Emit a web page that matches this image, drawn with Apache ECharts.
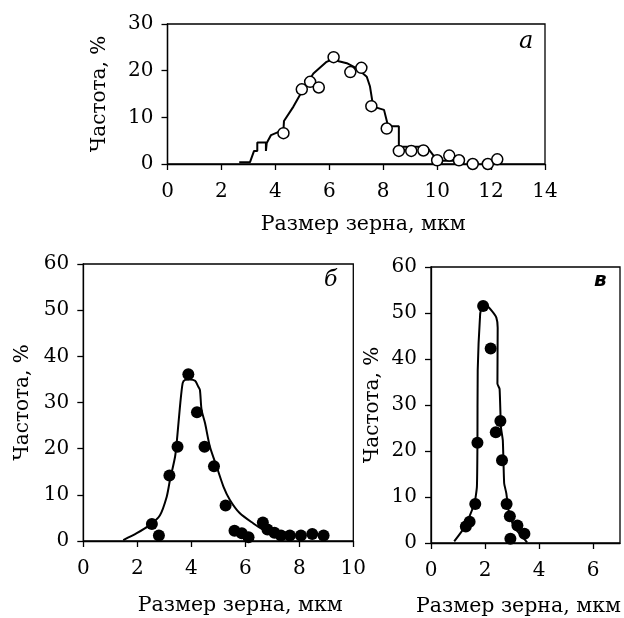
<!DOCTYPE html>
<html>
<head>
<meta charset="utf-8">
<script src="https://cdn.jsdelivr.net/npm/echarts@6/dist/echarts.min.js"></script>
<style>
html,body{margin:0;padding:0;background:#fff;}
#chart{width:624px;height:618px;}
</style>
</head>
<body>
<div id="chart"></div>
<script>
// ---- Data ----
const xTicksA = [0, 2, 4, 6, 8, 10, 12, 14];
const yTicksA = [0, 10, 20, 30];
const xTicksB = [0, 2, 4, 6, 8, 10];
const yTicksB = [0, 10, 20, 30, 40, 50, 60];
const xTicksC = [0, 2, 4, 6];
const xMaxC = 7;
const yTicksC = [0, 10, 20, 30, 40, 50, 60];

const panelLabels = ['a', 'б', 'в'];
const xAxisTitle = 'Размер зерна, мкм';
const yAxisTitle = 'Частота, %';

// Panel a: measured points (open circles)
const aPtsX = [4.30, 4.98, 5.29, 5.61, 6.16, 6.78, 7.19, 7.56, 8.13, 8.58, 9.04, 9.49, 10.0, 10.45, 10.81, 11.32, 11.88, 12.23];
const aPtsY = [6.6, 16.0, 17.6, 16.4, 22.9, 19.7, 20.6, 12.4, 7.6, 2.8, 2.8, 2.9, 0.8, 1.8, 0.8, 0, 0, 1.0];
// Panel a: curve
const aLineX = [2.66, 3.06, 3.21, 3.33, 3.33, 3.65, 3.65, 3.68, 3.84, 4.30, 4.32, 4.67, 4.98, 5.41, 5.90, 6.09, 6.65, 7.02, 7.39, 7.51, 7.59, 7.63, 8.03, 8.17, 8.32, 8.58, 8.58, 9.61, 10.01, 10.8];
const aLineY = [0.4, 0.4, 2.8, 2.8, 4.6, 4.6, 2.8, 4.5, 6.2, 7.3, 9.2, 12.3, 15.5, 19.4, 21.9, 22.4, 21.6, 20.5, 18.7, 16.6, 13.7, 12.3, 11.6, 8.35, 8.1, 8.1, 3.7, 3.7, 0.7, 0.7];

// Panel б: measured points (filled circles)
const bPtsX = [2.54, 2.80, 3.19, 3.49, 3.89, 4.21, 4.49, 4.84, 5.27, 5.60, 5.87, 6.12, 6.65, 6.82, 7.08, 7.32, 7.65, 8.06, 8.48, 8.90];
const bPtsY = [3.7, 1.2, 14.2, 20.4, 36.1, 27.9, 20.4, 16.2, 7.7, 2.2, 1.7, 0.8, 4.0, 2.5, 1.8, 1.2, 1.2, 1.2, 1.5, 1.2];
// Panel б: curve
const bLineX = [1.48, 1.98, 2.47, 2.84, 3.09, 3.21, 3.40, 3.48, 3.58, 3.68, 3.77, 3.95, 4.14, 4.26, 4.32, 4.38, 4.51, 4.69, 4.94, 5.19, 5.43, 5.80, 6.30, 6.67, 7.04, 7.41];
const bLineY = [0.2, 1.7, 3.5, 5.6, 9.6, 13.2, 18.3, 22.6, 29.1, 34.2, 34.9, 35.0, 34.7, 33.4, 32.7, 28.4, 25.5, 20.4, 16.1, 11.8, 8.9, 6.0, 3.8, 2.4, 1.3, 0.8];

// Panel в: measured points (filled circles)
const cPtsX = [1.29, 1.43, 1.64, 1.72, 1.93, 2.21, 2.40, 2.57, 2.63, 2.80, 2.92, 2.94, 3.20, 3.46];
const cPtsY = [3.6, 4.6, 8.5, 21.8, 51.5, 42.3, 24.1, 26.5, 18.0, 8.5, 5.8, 0.9, 3.8, 2.0];
// Panel в: curve
const cLineX = [0.86, 1.26, 1.61, 1.70, 1.72, 1.73, 1.82, 1.88, 2.07, 2.26, 2.42, 2.47, 2.46, 2.54, 2.59, 2.66, 2.71, 2.79, 2.87, 3.06, 3.31, 3.56];
const cLineY = [0.36, 3.6, 8.6, 12.2, 21.6, 37.5, 49.7, 51.2, 51.5, 50.4, 49.0, 46.8, 34.6, 33.5, 25.2, 22.3, 13.0, 10.8, 7.2, 3.6, 1.8, 0.14];

// ---- Helpers ----
const zip = (xs, ys) => xs.map((x, i) => [x, ys[i]]);
const FONT = 'DejaVu Serif';

function mkX(idx, ticks, max, gap, pad) {
  return {
    type: 'value', gridIndex: idx,
    min: ticks[0], max: max, interval: ticks[1] - ticks[0],
    name: xAxisTitle, nameLocation: 'middle', nameGap: gap,
    nameTextStyle: { fontFamily: FONT, fontSize: 20.5, color: '#000', padding: pad },
    axisLine: { show: true, onZero: false, lineStyle: { color: '#000', width: 1.3 } },
    axisTick: { show: true, inside: false, length: 6, lineStyle: { color: '#000', width: 1.3 } },
    axisLabel: { fontFamily: FONT, fontSize: 20, color: '#000', margin: 18,
      showMaxLabel: max === ticks[ticks.length - 1] },
    splitLine: { show: false }
  };
}
function mkY(idx, ticks, gap) {
  return {
    type: 'value', gridIndex: idx,
    min: ticks[0], max: ticks[ticks.length - 1], interval: ticks[1] - ticks[0],
    name: yAxisTitle, nameLocation: 'middle', nameGap: gap, nameRotate: 90,
    nameTextStyle: { fontFamily: FONT, fontSize: 20, color: '#000' },
    axisLine: { show: true, onZero: false, lineStyle: { color: '#000', width: 1.3 } },
    axisTick: { show: true, inside: false, length: 6, lineStyle: { color: '#000', width: 1.3 } },
    axisLabel: { fontFamily: FONT, fontSize: 20, color: '#000', margin: 14 },
    splitLine: { show: false }
  };
}
function lineS(idx, data, smooth) {
  return {
    type: 'line', xAxisIndex: idx, yAxisIndex: idx, data: data,
    showSymbol: false, symbol: 'none', smooth: smooth,
    lineStyle: { color: '#000', width: 2 }, z: 2, animation: false
  };
}
function dotS(idx, data, hollow) {
  return {
    type: 'scatter', xAxisIndex: idx, yAxisIndex: idx, data: data,
    symbol: 'circle', symbolSize: hollow ? 11 : 12,
    itemStyle: hollow ? { color: '#fff', borderColor: '#000', borderWidth: 1.5, opacity: 1 } : { color: '#000', opacity: 1 },
    emphasis: { disabled: true },
    z: 3, animation: false
  };
}

const gridStyle = { show: true, borderColor: '#000', borderWidth: 1.3, backgroundColor: 'transparent', containLabel: false };

const option = {
  backgroundColor: '#fff',
  animation: false,
  grid: [
    Object.assign({ left: 167.5, top: 24, width: 377.5, height: 140 }, gridStyle),
    Object.assign({ left: 83.3, top: 264, width: 270, height: 277 }, gridStyle),
    Object.assign({ left: 431, top: 267, width: 189, height: 278 }, gridStyle)
  ],
  xAxis: [
    mkX(0, xTicksA, xTicksA[xTicksA.length - 1], 50, [0, 0, 0, 14]),
    mkX(1, xTicksB, xTicksB[xTicksB.length - 1], 54, [0, 0, 0, 44]),
    mkX(2, xTicksC, xMaxC, 53, [0, 14, 0, 0])
  ],
  yAxis: [
    mkY(0, yTicksA, 58),
    mkY(1, yTicksB, 51),
    mkY(2, yTicksC, 48)
  ],
  graphic: [
    { type: 'text', left: 519, top: 30, style: { text: panelLabels[0], font: 'italic 24px "DejaVu Serif"', fill: '#000' } },
    { type: 'text', left: 324, top: 269, style: { text: panelLabels[1], font: 'italic 22px "DejaVu Serif"', fill: '#000' } },
    { type: 'text', left: 594, top: 271, style: { text: panelLabels[2], font: 'italic bold 20px "DejaVu Sans"', fill: '#000' } }
  ],
  series: [
    lineS(0, zip(aLineX, aLineY), false),
    dotS(0, zip(aPtsX, aPtsY), true),
    lineS(1, zip(bLineX, bLineY), 0.25),
    dotS(1, zip(bPtsX, bPtsY), false),
    lineS(2, zip(cLineX, cLineY), 0.15),
    dotS(2, zip(cPtsX, cPtsY), false)
  ]
};

const chart = echarts.init(document.getElementById('chart'), null, { renderer: 'canvas' });
chart.setOption(option);
</script>
</body>
</html>
